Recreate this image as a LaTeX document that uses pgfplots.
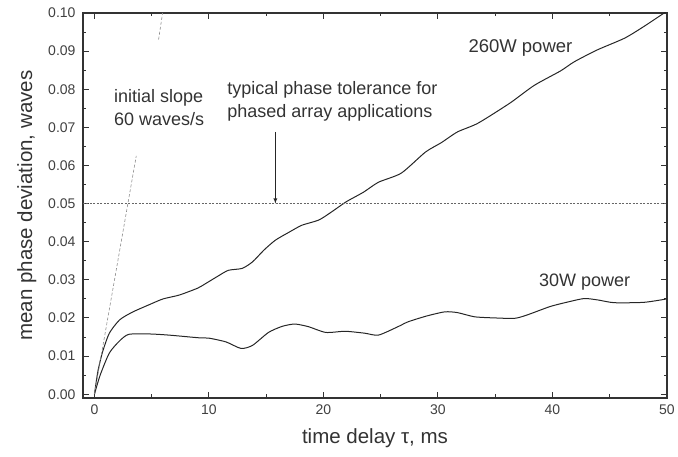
\documentclass[border=0pt]{standalone}
\usepackage{pgfplots}
\pgfplotsset{compat=1.18}
\usepackage{fontspec}
\setmainfont{Liberation Sans}
\begin{document}
\begin{tikzpicture}
\begin{axis}[
  scale only axis, width=584pt, height=385pt,
  xmin=-1, xmax=50, ymin=-0.001, ymax=0.1,
  xtick={0,10,20,30,40,50}, minor xtick={5,15,25,35,45},
  ytick={0,0.01,0.02,0.03,0.04,0.05,0.06,0.07,0.08,0.09,0.1},
  minor ytick={0.005,0.015,0.025,0.035,0.045,0.055,0.065,0.075,0.085,0.095},
  scaled y ticks=false,
  yticklabel style={xshift=-4pt, /pgf/number format/.cd, fixed, fixed zerofill, precision=2},
  xticklabel style={yshift=-3pt},
  /pgf/number format/assume math mode=true,
  tick align=inside, major tick length=6pt, minor tick length=3.5pt,
  tick pos=both,
  every tick/.style={black!80, line width=1pt},
  axis line style={black!80, line width=1.3pt},
  ticklabel style={font=\fontsize{14}{16}\selectfont, text=black!75},
  label style={font=\fontsize{20.5}{23}\selectfont, text=black!80},
  xlabel={time delay τ, ms},
  ylabel={mean phase deviation, waves},
  xlabel style={yshift=-7pt},
  ylabel style={yshift=5pt},
  clip=true,
]
\addplot[black!85, line width=1pt, smooth, tension=0.4] coordinates {
(0,0) (0.3,0.006) (0.7,0.011) (1.3,0.016) (2.2,0.0195) (3.3,0.0215) (4.8,0.0235)
(6,0.025) (7.4,0.026) (9,0.0278) (9.7,0.029) (10.8,0.031) (11.7,0.0325) (12.9,0.033)
(13.8,0.0347) (14.8,0.0378) (15.8,0.0404) (17,0.0425) (18.1,0.0443) (19.6,0.0457)
(20.7,0.0478) (22,0.0505) (23.5,0.053) (24.8,0.0556) (26.8,0.058) (28.9,0.0635)
(30.3,0.066) (31.7,0.0688) (33.5,0.0711) (36.3,0.0764) (38.4,0.081) (40.7,0.0848)
(41.9,0.0872) (43.9,0.0903) (46.3,0.0934) (48,0.0965) (50,0.1005)
};
\addplot[black!85, line width=1pt, smooth, tension=0.4] coordinates {
(0,0) (0.5,0.005) (1.3,0.0108) (2.2,0.014) (3,0.0157) (4.8,0.0158) (6.5,0.0155)
(9.1,0.0148) (10,0.0147) (11.5,0.0137) (12.8,0.012) (13.8,0.0128) (15.2,0.0162)
(16.4,0.0178) (17.5,0.0184) (18.7,0.0177) (20.2,0.0162) (21.9,0.0165) (23.6,0.016)
(24.8,0.0155) (26.5,0.0177) (27.4,0.019) (29,0.0205) (30.6,0.0216) (31.7,0.0214)
(33.2,0.0203) (35,0.020) (36.7,0.0199) (37.8,0.0208) (39.8,0.023) (41.5,0.0243)
(42.8,0.0251) (44,0.0247) (45.4,0.0240) (48,0.0241) (50,0.025)
};
% initial slope line (gapped for text)
\addplot[black!45, dash pattern=on 3pt off 2pt, line width=0.6pt] coordinates {(0,0) (3.65,0.0625)};
\addplot[black!45, dash pattern=on 3pt off 2pt, line width=0.6pt] coordinates {(5.6,0.093) (5.95,0.1)};
% tolerance line
\addplot[black!60, dash pattern=on 2pt off 1.5pt, line width=0.7pt] coordinates {(-1,0.05) (50,0.05)};
\draw[-latex, black!85, line width=0.8pt] (axis cs:15.8,0.0688) -- (axis cs:15.8,0.0500);
\node[anchor=west, align=left, font=\fontsize{18}{23}\selectfont, text=black!80] at (axis cs:1.4,0.0752) {initial slope\\60 waves/s};
\node[anchor=west, align=left, font=\fontsize{18}{23}\selectfont, text=black!80] at (axis cs:11.3,0.0768) {typical phase tolerance for\\phased array applications};
\node[font=\fontsize{18.5}{21}\selectfont, text=black!80] at (axis cs:37.2,0.0908) {260W power};
\node[font=\fontsize{18}{21}\selectfont, text=black!80] at (axis cs:42.8,0.0294) {30W power};
\end{axis}
\pgfresetboundingbox
\path[use as bounding box] ([shift={(-83pt,-59pt)}]current axis.south west) rectangle ([shift={(11pt,13pt)}]current axis.north east);
\end{tikzpicture}
\end{document}
